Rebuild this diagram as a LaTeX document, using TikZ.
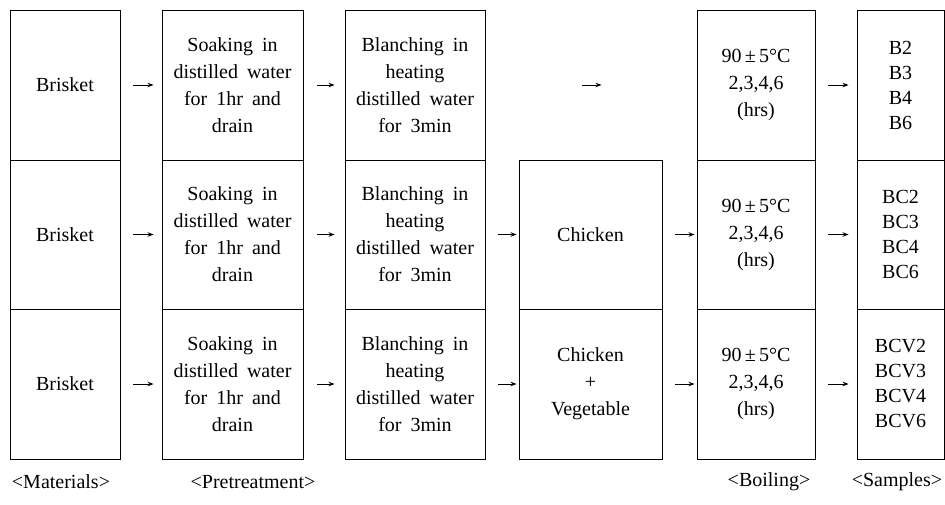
\documentclass[tikz,border=0pt]{standalone}
\usepackage{fontspec}
\setmainfont{Liberation Serif}
\usetikzlibrary{arrows.meta}
\newcommand{\widesp}{\spaceskip=9pt plus 2pt minus 1pt\relax}
\begin{document}
\begin{tikzpicture}[x=1pt,y=-1pt,
  box/.style={draw, line width=0.9pt, inner sep=0pt, align=center,
    font=\fontsize{20}{27}\selectfont, execute at begin node=\widesp},
  sbox/.style={box, font=\fontsize{20}{25}\selectfont},
  lab/.style={inner sep=0pt, font=\fontsize{20}{24}\selectfont},
  arr/.style={line width=0.9pt, -{Stealth[length=6pt,width=4.5pt]}},
  c1/.style={minimum width=110pt},
  c2/.style={minimum width=141pt},
  c3/.style={minimum width=140pt},
  c4/.style={minimum width=143pt},
  c5/.style={minimum width=118pt},
  c6/.style={minimum width=87pt},
  r1/.style={minimum height=150pt},
  r2/.style={minimum height=149pt},
  r3/.style={minimum height=150pt}]
\useasboundingbox (0,0) rectangle (945,504);

% row 1
\node[box,c1,r1] (a1) at (65,85) {Brisket};
\node[box,c2,r1] (a2) at (232.5,85) {Soaking in\\distilled water\\for 1hr and\\drain};
\node[box,c3,r1] (a3) at (415,85) {Blanching in\\heating\\distilled water\\for 3min};
\node[box,c5,r1] (a5) at (756,85) {90\,±\,5°C\\2,3,4,6\\(hrs)};
\node[sbox,c6,r1] (a6) at (900.5,85) {B2\\B3\\B4\\B6};

% row 2
\node[box,c1,r2] (b1) at (65,234.5) {Brisket};
\node[box,c2,r2] (b2) at (232.5,234.5) {Soaking in\\distilled water\\for 1hr and\\drain};
\node[box,c3,r2] (b3) at (415,234.5) {Blanching in\\heating\\distilled water\\for 3min};
\node[box,c4,r2] (b4) at (590.5,234.5) {Chicken};
\node[box,c5,r2] (b5) at (756,234.5) {90\,±\,5°C\\2,3,4,6\\(hrs)};
\node[sbox,c6,r2] (b6) at (900.5,234.5) {BC2\\BC3\\BC4\\BC6};

% row 3
\node[box,c1,r3] (d1) at (65,384) {Brisket};
\node[box,c2,r3] (d2) at (232.5,384) {Soaking in\\distilled water\\for 1hr and\\drain};
\node[box,c3,r3] (d3) at (415,384) {Blanching in\\heating\\distilled water\\for 3min};
\node[box,c4,r3] (d4) at (590.5,384) {Chicken\\+\\Vegetable};
\node[box,c5,r3] (d5) at (756,384) {90\,±\,5°C\\2,3,4,6\\(hrs)};
\node[sbox,c6,r3] (d6) at (900.5,384) {BCV2\\BCV3\\BCV4\\BCV6};

% arrows
\foreach \r in {a,b,d}{
  \draw[arr, shorten <=13pt, shorten >=8pt] (\r1.east) -- (\r2.west);
  \draw[arr, shorten <=14pt, shorten >=10pt] (\r2.east) -- (\r3.west);
  \draw[arr, shorten <=13pt, shorten >=8pt] (\r5.east) -- (\r6.west);
}
\draw[arr, shorten <=97pt, shorten >=95pt] (a3.east) -- (a5.west);
\draw[arr, shorten <=13pt, shorten >=2pt] (b3.east) -- (b4.west);
\draw[arr, shorten <=13pt, shorten >=2pt] (b4.east) -- (b5.west);
\draw[arr, shorten <=13pt, shorten >=2pt] (d3.east) -- (d4.west);
\draw[arr, shorten <=13pt, shorten >=2pt] (d4.east) -- (d5.west);

% labels
\node[lab] (l1) at (61,482) {<Materials>};
\node[lab] (l2) at (253,482) {<Pretreatment>};
\node[lab] (l5) at (769,482) {<Boiling>};
\node[lab] (l6) at (897,482) {<Samples>};
\end{tikzpicture}
\end{document}
